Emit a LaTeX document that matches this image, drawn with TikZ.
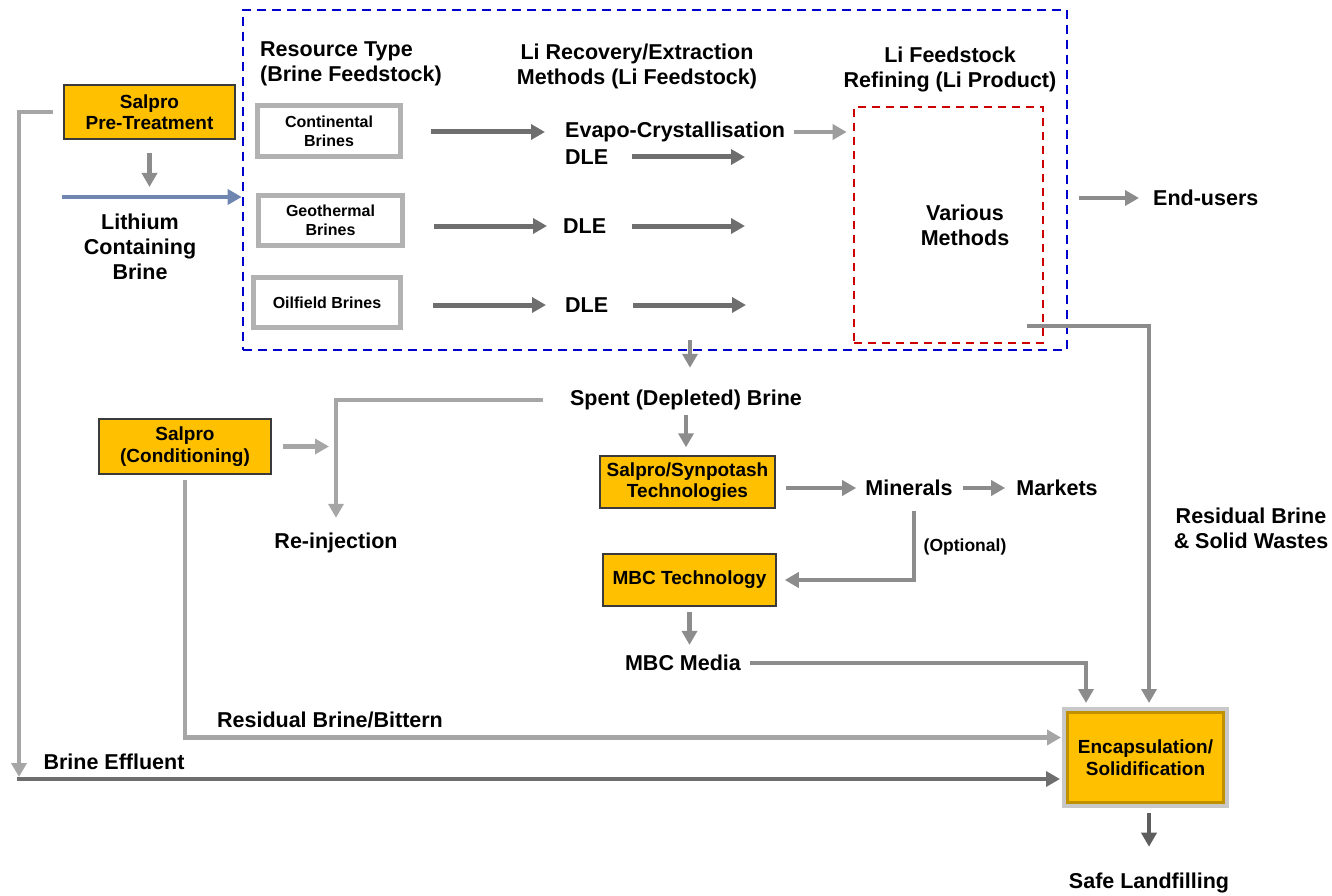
\documentclass[tikz,border=0pt]{standalone}
\usepackage{fontspec}
\setmainfont{Liberation Sans}
\usetikzlibrary{arrows.meta, positioning, calc}

\definecolor{salorange}{RGB}{255,192,0}
\definecolor{boxline}{RGB}{58,58,58}
\definecolor{brinegray}{RGB}{178,178,178}
\definecolor{encapgray}{RGB}{200,200,200}
\definecolor{golden}{RGB}{191,144,0}
\definecolor{arrowdark}{RGB}{110,110,110}
\definecolor{arrowmid}{RGB}{140,140,140}
\definecolor{arrowlight}{RGB}{166,166,166}
\definecolor{arrowdarker}{RGB}{94,94,94}
\definecolor{feedblue}{RGB}{111,134,176}
\definecolor{stageblue}{RGB}{0,0,204}
\definecolor{refred}{RGB}{204,0,0}

\tikzset{
  lbl/.style={font=\fontsize{21.5}{25}\selectfont\bfseries, align=center, inner sep=0pt},
  orangebox/.style={draw=boxline, line width=1.5pt, fill=salorange, align=center,
    font=\fontsize{19}{21.5}\selectfont\bfseries, inner sep=0pt},
  brinebox/.style={draw=brinegray, line width=5pt, fill=white, align=center,
    font=\fontsize{16}{19}\selectfont\bfseries, inner sep=0pt},
  encapbox/.style={draw=encapgray, line width=4pt, fill=salorange, align=center,
    font=\fontsize{19}{22}\selectfont\bfseries, inner sep=0pt},
  bluebox/.style={draw=stageblue, line width=2.6pt, dash pattern=on 9pt off 6pt},
  redbox/.style={draw=refred, line width=2.6pt, dash pattern=on 8pt off 6pt},
  darkarrow/.style={->, draw=arrowdark, line width=5pt},
  midarrow/.style={->, draw=arrowmid, line width=4.8pt},
  lightarrow/.style={->, draw=arrowlight, line width=4.2pt},
  greyarrow/.style={->, draw=arrowmid!85, line width=4.2pt},
  feedarrow/.style={->, draw=feedblue, line width=4.2pt},
  effline/.style={->, draw=arrowdark, line width=4.8pt},
}

\begin{document}
\begin{tikzpicture}[x=1pt, y=-1pt, >={Triangle[length=14pt,width=15pt]}]
\useasboundingbox (0,0) rectangle (1332,896);

% frames of the Li stage
\node[bluebox, minimum width=824pt, minimum height=340pt] (stage) at (655,180) {};
\node[redbox, minimum width=189pt, minimum height=236pt] (refine) at (948.5,225) {};
\node[lbl] (various) at (965,225) {Various\\Methods};

% column heads
\node[lbl, align=left, anchor=west] (hres) at (260,64) {Resource Type\\(Brine Feedstock)};
\node[lbl] (hrec) at (637,66) {Li Recovery/Extraction\\Methods (Li Feedstock)};
\node[lbl] (href) at (950,69) {Li Feedstock\\Refining (Li Product)};

% feed side
\node[orangebox, minimum width=171pt, minimum height=54pt] (pre) at (149.5,112) {Salpro\\Pre-Treatment};
\node[lbl] (licb) at (140,247) {Lithium\\Containing\\Brine};
\coordinate (lcbstart) at (62,197);

\node[brinebox, minimum width=143pt, minimum height=51pt] (cont) at (329,131) {Continental\\Brines};
\node[brinebox, minimum width=144pt, minimum height=50pt] (geo) at (330.5,220.5) {Geothermal\\Brines};
\node[brinebox, minimum width=147pt, minimum height=50pt] (oil) at (327,302.5) {Oilfield Brines};

\node[lbl, anchor=west] (evapo) at (565,132) {Evapo-Crystallisation};
\node[lbl, anchor=west] (dle1) at (565,157) {DLE};
\node[lbl, anchor=west] (dle2) at (563,226) {DLE};
\node[lbl, anchor=west] (dle3) at (565,305) {DLE};
\coordinate (out1) at (745,157);
\coordinate (out2) at (745,226);
\coordinate (out3) at (746,305);

\node[lbl, anchor=west] (endusers) at (1153,198) {End-users};

% spent brine side
\coordinate (drain) at (690,340);
\node[lbl] (spent) at (686,400) {Spent (Depleted) Brine};
\node[lbl] (reinj) at (336,543) {Re-injection};
\node[orangebox, minimum width=172pt, minimum height=55pt] (cond) at (185,446.5) {Salpro\\(Conditioning)};
\node[orangebox, minimum width=175pt, minimum height=52pt] (synpot) at (687.5,482) {Salpro/Synpotash\\Technologies};
\node[lbl] (minerals) at (909,488) {Minerals};
\node[lbl] (markets) at (1057,488) {Markets};
\node[lbl, font=\fontsize{17.5}{20}\selectfont\bfseries] (optional) at (965,547) {(Optional)};
\node[orangebox, minimum width=173pt, minimum height=52pt] (mbc) at (689.5,580) {MBC Technology};
\node[lbl] (media) at (683,663) {MBC Media};
\node[lbl] (rbsw) at (1251,528) {Residual Brine\\\& Solid Wastes};
\coordinate (rbswstart) at (1027,326);

% disposal
\node[encapbox, minimum width=163pt, minimum height=97pt] (encap) at (1145.5,757.5) {Encapsulation/\\Solidification};
\draw[golden, line width=2.5pt] ($(encap.north west)+(5.5,5.5)$) rectangle ($(encap.south east)+(-5.5,-5.5)$);
\node[lbl] (safe) at (1149,883) {Safe Landfilling};
\node[lbl] (bittern) at (330,720) {Residual Brine/Bittern};
\node[lbl] (effluent) at (114,762) {Brine Effluent};
\coordinate (effstart) at (19,779);

% feed arrows
\draw[feedarrow] (lcbstart) -- (lcbstart -| stage.west);
\draw[midarrow, shorten <=13pt, shorten >=10pt] (pre.south) -- (pre.south |- lcbstart);
\draw[lightarrow, shorten <=10pt, shorten >=2pt] (pre.west) -| (effstart);
\draw[effline, shorten >=2pt] ([xshift=-2pt]effstart) -- (effstart -| encap.west);

% brine rows
\draw[darkarrow, shorten <=28pt, shorten >=20pt] (cont.east |- evapo) -- (evapo.west);
\draw[darkarrow, shorten <=24pt] (dle1.east) -- (out1);
\draw[darkarrow, shorten <=29pt, shorten >=16pt] (geo.east |- dle2) -- (dle2.west);
\draw[darkarrow, shorten <=26pt] (dle2.east) -- (out2);
\draw[darkarrow, shorten <=30pt, shorten >=19pt] (oil.east |- dle3) -- (dle3.west);
\draw[darkarrow, shorten <=25pt] (dle3.east) -- (out3);
\draw[greyarrow, shorten <=9pt, shorten >=6pt] (evapo.east) -- (evapo.east -| refine.west);
\draw[midarrow, shorten <=11pt, shorten >=14pt] (endusers.west -| stage.east) -- (endusers.west);

% spent brine
\draw[midarrow, shorten >=22pt] (drain) -- (drain |- spent.north);
\draw[lightarrow, shorten <=27pt, shorten >=15pt] (spent.west) -| (reinj.north);
\draw[lightarrow, shorten <=11pt, shorten >=7pt] (cond.east) -- (cond.east -| reinj.north);
\draw[lightarrow, shorten <=5pt, shorten >=1pt] (cond.south) |- ([yshift=20pt]encap.west);
\draw[midarrow, shorten <=5pt, shorten >=8pt] (spent.south) -- (spent.south |- synpot.north);
\draw[midarrow, shorten <=10pt, shorten >=9pt] (minerals.west -| synpot.east) -- (minerals.west);
\draw[midarrow, shorten <=10pt, shorten >=11pt] (minerals) -- (markets);
\draw[midarrow, shorten <=15pt, shorten >=8pt] ([xshift=5pt]minerals.south) |- (mbc.east);
\draw[midarrow, shorten <=5pt, shorten >=10pt] (mbc.south) -- (mbc.south |- media.north);

% to encapsulation
\draw[midarrow, shorten <=9pt, shorten >=4pt] (media.east) -| ([xshift=-59.5pt]encap.north);
\draw[midarrow, shorten >=4pt] (rbswstart) -| ([xshift=3.5pt]encap.north);
\draw[->, draw=arrowdarker, line width=4.8pt, shorten <=5pt, shorten >=26pt] (safe.north |- encap.south) -- (safe.north);
\end{tikzpicture}
\end{document}
